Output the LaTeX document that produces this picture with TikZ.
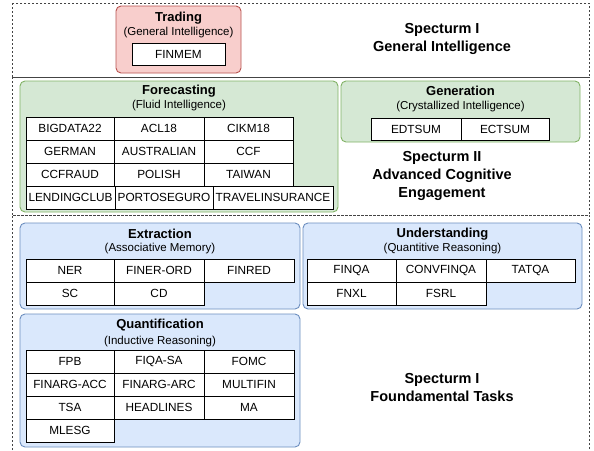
\documentclass[tikz,border=0pt]{standalone}
\usepackage{fontspec}
\setmainfont{Liberation Sans}
\definecolor{redfill}{HTML}{F8CECC}
\definecolor{redline}{HTML}{B85450}
\definecolor{greenfill}{HTML}{D5E8D4}
\definecolor{greenline}{HTML}{82B366}
\definecolor{bluefill}{HTML}{DAE8FC}
\definecolor{blueline}{HTML}{6C8EBF}
\definecolor{framecol}{HTML}{444444}
\tikzset{
  frame/.style={draw=framecol, dash pattern=on 2pt off 2pt, line width=0.7pt},
  group/.style={rectangle, rounded corners=5pt, line width=0.9pt, inner sep=0pt},
  redgroup/.style={group, draw=redline, fill=redfill},
  greengroup/.style={group, draw=greenline, fill=greenfill},
  bluegroup/.style={group, draw=blueline, fill=bluefill},
  cell/.style={rectangle, draw=black, fill=white, line width=0.9pt, inner sep=0pt,
    font=\fontsize{11.8}{13}\selectfont},
  gtitle/.style={font=\fontsize{13}{15}\selectfont\bfseries, inner sep=0pt},
  gsub/.style={font=\fontsize{11.5}{13}\selectfont, inner sep=0pt},
  spec/.style={font=\fontsize{14.5}{18}\selectfont\bfseries, align=center, inner sep=0pt},
}
\newcommand\cellbox[6]{\node[cell, minimum width={#3-#2}, minimum height={#5-#4}] (#1) at ({(#2+#3)/2},{(#4+#5)/2}) {#6};}
\newcommand\grpbox[6]{\node[#6, minimum width={#3-#2}, minimum height={#5-#4}] (#1) at ({(#2+#3)/2},{(#4+#5)/2}) {};}
\begin{document}
\begin{tikzpicture}[x=1pt,y=-1pt]
\useasboundingbox (0,0) rectangle (594,450);
\fill[white] (0,0) rectangle (594,450);
% frames
\draw[frame] (12,3) rectangle (589,77);
\draw[frame] (12,77) rectangle (589,215);
\draw[frame] (12,450) -- (12,215) -- (589,215) -- (589,450);

% Spectrum I general
\grpbox{trading}{116}{241}{6}{73}{redgroup}
\node[gtitle] (tradingT) at (178.5,18) {Trading};
\node[gsub] (tradingS) at (178.5,33) {(General Intelligence)};
\cellbox{finmem}{132}{225}{43}{65}{FINMEM}
\node[spec] (spec1) at (442,39) {Specturm I\\General Intelligence};

% Spectrum II
\grpbox{forecast}{20}{338}{81}{212}{greengroup}
\node[gtitle] (forecastT) at (179,91) {Forecasting};
\node[gsub] (forecastS) at (179,106) {(Fluid Intelligence)};
\cellbox{bigdata}{26}{114}{117}{140}{BIGDATA22}
\cellbox{acl}{114}{204}{117}{140}{ACL18}
\cellbox{cikm}{204}{293}{117}{140}{CIKM18}
\cellbox{german}{26}{114}{140}{163}{GERMAN}
\cellbox{austr}{114}{204}{140}{163}{AUSTRALIAN}
\cellbox{ccf}{204}{293}{140}{163}{CCF}
\cellbox{ccfraud}{26}{114}{163}{186}{CCFRAUD}
\cellbox{polish}{114}{204}{163}{186}{POLISH}
\cellbox{taiwan}{204}{293}{163}{186}{TAIWAN}
\cellbox{lending}{26}{115}{186}{209}{LENDINGCLUB}
\cellbox{porto}{115}{213}{186}{209}{PORTOSEGURO}
\cellbox{travel}{213}{333}{186}{209}{TRAVELINSURANCE}

\grpbox{generation}{341}{580}{81}{142}{greengroup}
\node[gtitle] (generationT) at (460.5,91) {Generation};
\node[gsub] (generationS) at (460.5,107) {(Crystallized Intelligence)};
\cellbox{edtsum}{371}{461}{118}{140}{EDTSUM}
\cellbox{ectsum}{461}{549}{118}{140}{ECTSUM}
\node[spec] (spec2) at (442,176) {Specturm II\\Advanced Cognitive\\Engagement};

% Spectrum I foundamental
\grpbox{extraction}{20}{300}{223}{309}{bluegroup}
\node[gtitle] (extractionT) at (160,234) {Extraction};
\node[gsub] (extractionS) at (160,249) {(Associative Memory)};
\cellbox{ner}{26}{114}{259}{282}{NER}
\cellbox{finerord}{114}{204}{259}{282}{FINER-ORD}
\cellbox{finred}{204}{294}{259}{282}{FINRED}
\cellbox{sc}{26}{114}{282}{305}{SC}
\cellbox{cd}{114}{204}{282}{305}{CD}

\grpbox{understanding}{303}{582}{223}{309}{bluegroup}
\node[gtitle] (understandingT) at (442.5,234) {Understanding};
\node[gsub] (understandingS) at (442.5,249) {(Quantitive Reasoning)};
\cellbox{finqa}{307}{396}{259}{282}{FINQA}
\cellbox{convfinqa}{396}{486}{259}{282}{CONVFINQA}
\cellbox{tatqa}{486}{575}{259}{282}{TATQA}
\cellbox{fnxl}{307}{396}{282}{305}{FNXL}
\cellbox{fsrl}{396}{486}{282}{305}{FSRL}

\grpbox{quant}{20}{300}{314}{447}{bluegroup}
\node[gtitle] (quantT) at (160,325) {Quantification};
\node[gsub] (quantS) at (160,342) {(Inductive Reasoning)};
\cellbox{fpb}{26}{114}{350}{373}{FPB}
\cellbox{fiqasa}{114}{204}{350}{373}{FIQA-SA}
\cellbox{fomc}{204}{294}{350}{373}{FOMC}
\cellbox{finargacc}{26}{114}{373}{396}{FINARG-ACC}
\cellbox{finargarc}{114}{204}{373}{396}{FINARG-ARC}
\cellbox{multifin}{204}{294}{373}{396}{MULTIFIN}
\cellbox{tsa}{26}{114}{396}{419}{TSA}
\cellbox{headlines}{114}{204}{396}{419}{HEADLINES}
\cellbox{ma}{204}{294}{396}{419}{MA}
\cellbox{mlesg}{26}{114}{419}{442}{MLESG}
\node[spec] (spec3) at (442,388) {Specturm I\\Foundamental Tasks};
\end{tikzpicture}
\end{document}
